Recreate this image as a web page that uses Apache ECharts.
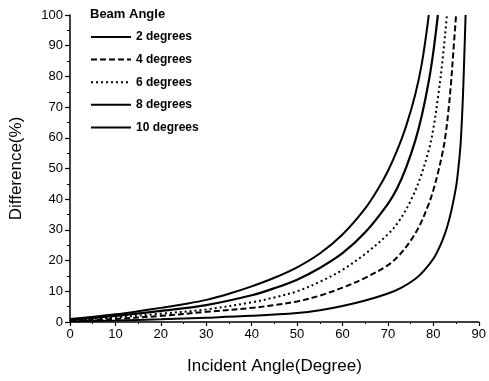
<!DOCTYPE html>
<html><head><meta charset="utf-8">
<script src="https://cdn.jsdelivr.net/npm/echarts@6/dist/echarts.min.js"></script>
<style>html,body{margin:0;padding:0;background:#fff}#c{width:489px;height:381px}</style>
</head><body><div id="c"></div>
<script>
// Incident angle (degrees) sampled for each curve, and the read differences (%)
const angles2  = [0, 10, 20, 30, 40, 50, 55, 60, 65, 70, 73, 76, 78, 80, 81, 82, 83, 84, 85, 85.5, 86, 86.5, 86.8, 87.1];
const diff2    = [0.2, 0.5, 0.9, 1.4, 2.0, 2.9, 3.8, 5.2, 7.0, 9.3, 11.2, 14.0, 16.8, 20.6, 23.3, 26.6, 30.8, 36.5, 44, 50, 58, 73, 86, 100];
const angles4  = [0, 10, 20, 30, 40, 45, 50, 55, 60, 65, 70, 72.5, 75, 77, 79, 80, 81, 82, 82.6, 83.3, 83.9, 84.4, 85];
const diff4    = [0.4, 1.0, 2.0, 3.3, 4.6, 5.5, 6.7, 8.6, 11.2, 14.4, 18.5, 21.8, 26.5, 31.5, 38.5, 43, 48.5, 55, 60, 68.5, 78, 88, 100];
const angles6  = [0, 10, 20, 30, 40, 45, 50, 55, 60, 65, 70, 72.5, 75, 77, 79, 80, 81, 82, 83];
const diff6    = [0.6, 1.5, 2.7, 4.1, 6.4, 8.0, 10.0, 13.1, 17.0, 22.2, 28.6, 33.0, 39.5, 46.5, 56, 63, 73, 85, 100];
const angles8  = [0, 10, 20, 30, 40, 45, 50, 55, 60, 65, 70, 72, 74, 76, 77.5, 79, 80, 81];
const diff8    = [0.8, 2.0, 3.6, 5.5, 8.7, 11.0, 13.8, 17.6, 22.4, 29.2, 38.5, 43.5, 50.3, 59, 67.5, 78.5, 88, 100];
const angles10 = [0, 5, 10, 15, 20, 25, 30, 35, 40, 45, 50, 55, 60, 65, 68, 70, 72, 74, 76, 77.5, 79];
const diff10   = [1.0, 1.7, 2.5, 3.5, 4.6, 5.8, 7.2, 9.2, 11.6, 14.4, 17.8, 22.3, 28.5, 37.0, 43.8, 49.2, 55.8, 63.8, 74, 84.5, 100];
const seriesNames = ['2 degrees', '4 degrees', '6 degrees', '8 degrees', '10 degrees'];
const xTicks = [0, 10, 20, 30, 40, 50, 60, 70, 80, 90];
const yTicks = [0, 10, 20, 30, 40, 50, 60, 70, 80, 90, 100];

const pairs = (xs, ys) => xs.map((x, i) => [x, ys[i]]);
const allX = [angles2, angles4, angles6, angles8, angles10];
const allY = [diff2, diff4, diff6, diff8, diff10];
const styles = [
  {type: 'solid', width: 2},
  {type: [6, 3], width: 2},
  {type: [2, 3], width: 2},
  {type: 'solid', width: 2.2},
  {type: 'solid', width: 2}
];
const labelFont = "'Liberation Sans Narrow','Liberation Sans',Arial,sans-serif";
const mainFont = "'Liberation Sans',Arial,sans-serif";
const chart = echarts.init(document.getElementById('c'), null, {renderer: 'canvas'});
chart.setOption({
  animation: false,
  backgroundColor: '#fff',
  grid: {left: 69, right: 5, top: 15, bottom: 59, containLabel: false},
  title: {
    text: 'Beam Angle', left: 90, top: 8, padding: 0,
    textStyle: {fontSize: 13, fontWeight: 'bold', color: '#000', fontFamily: mainFont}
  },
  legend: {
    orient: 'vertical', left: 90, top: 31, padding: 0,
    itemWidth: 40, itemHeight: 14, itemGap: 10.6,
    data: seriesNames,
    itemStyle: {opacity: 0},
    textStyle: {fontSize: 12, fontWeight: 'bold', color: '#000', fontFamily: mainFont}
  },
  xAxis: {
    type: 'value', min: 0, max: 90, interval: 10,
    name: 'Incident Angle(Degree)', nameLocation: 'middle', nameGap: 36,
    nameTextStyle: {fontSize: 17, color: '#000', fontFamily: mainFont},
    axisLine: {show: true, lineStyle: {color: '#000', width: 1.5}},
    axisTick: {show: true, length: 4, inside: false, lineStyle: {color: '#000', width: 1.2}},
    minorTick: {show: true, splitNumber: 2, length: 2, lineStyle: {color: '#000'}},
    splitLine: {show: false},
    axisLabel: {color: '#000', fontSize: 13, margin: 6, fontFamily: labelFont,
      formatter: v => xTicks.includes(v) ? String(v) : ''}
  },
  yAxis: {
    type: 'value', min: 0, max: 100, interval: 10,
    name: 'Difference(%)', nameLocation: 'middle', nameGap: 45,
    nameTextStyle: {fontSize: 17, color: '#000', fontFamily: mainFont},
    axisLine: {show: true, lineStyle: {color: '#000', width: 1.5}},
    axisTick: {show: true, length: 5, lineStyle: {color: '#000', width: 1.2}},
    minorTick: {show: true, splitNumber: 2, length: 3, lineStyle: {color: '#000'}},
    splitLine: {show: false},
    axisLabel: {color: '#000', fontSize: 13, margin: 7, fontFamily: labelFont,
      formatter: v => yTicks.includes(v) ? String(v) : ''}
  },
  series: seriesNames.map((n, i) => ({
    name: n, type: 'line', smooth: 0.35, symbol: 'none', clip: true,
    data: pairs(allX[i], allY[i]),
    lineStyle: Object.assign({color: '#000'}, styles[i]),
    itemStyle: {color: '#000'}
  }))
});
</script></body></html>
